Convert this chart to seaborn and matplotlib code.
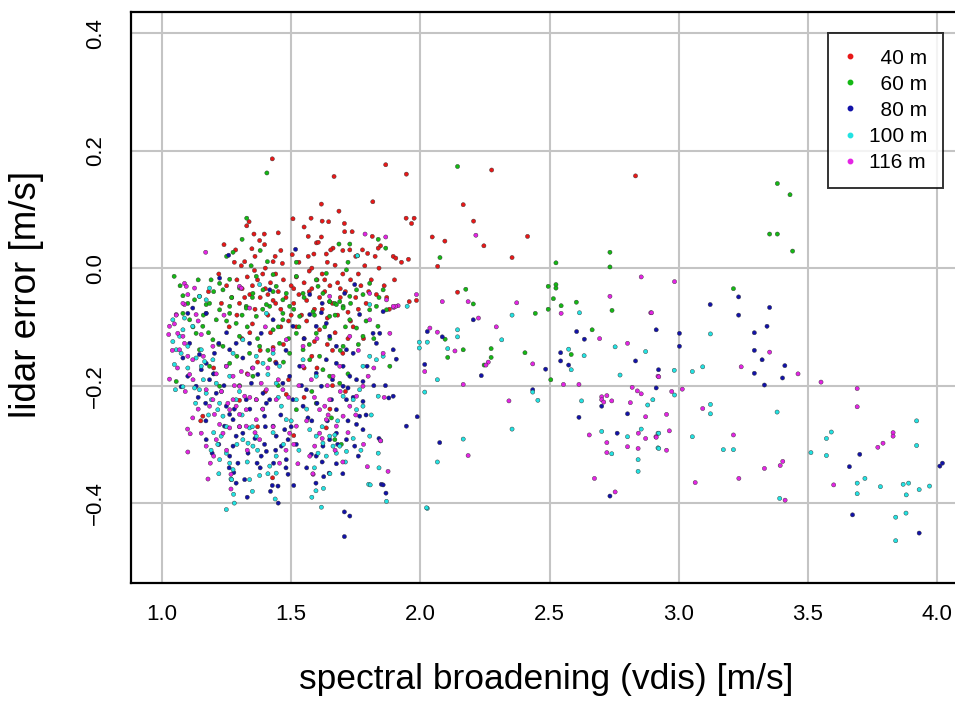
import matplotlib
matplotlib.use("Agg")
import matplotlib.pyplot as plt
from matplotlib.lines import Line2D
import seaborn as sns
import pandas as pd

# ---------------- data ----------------
series_names = ["40 m", "60 m", "80 m", "100 m", "116 m"]
legend_labels = ["  40 m", "  60 m", "  80 m", "100 m", "116 m"]
series_colors = ["#E81818", "#14B814", "#1212A8", "#22E2E2", "#E424E4"]
x_ticks = [1.0, 1.5, 2.0, 2.5, 3.0, 3.5, 4.0]
y_ticks = [-0.4, -0.2, 0.0, 0.2, 0.4]
x_label = "spectral broadening (vdis) [m/s]"
y_label = "lidar error [m/s]"

pts_40 = [
    (1.427, 0.186), (1.866, 0.176), (1.946, 0.160), (1.666, 0.156), (2.276, 0.167), (2.833, 0.157),
    (1.816, 0.113), (1.617, 0.109), (2.166, 0.108), (1.685, 0.097), (1.507, 0.084), (1.577, 0.085),
    (1.645, 0.079), (1.945, 0.085), (1.976, 0.085), (1.966, 0.076), (2.206, 0.080), (1.706, 0.076),
    (1.337, 0.079), (1.328, 0.072), (1.356, 0.058), (1.396, 0.058), (1.378, 0.047), (1.397, 0.040),
    (1.348, 0.033), (1.285, 0.031), (1.504, 0.023), (1.566, 0.054), (1.617, 0.053), (1.598, 0.043),
    (1.605, 0.044), (1.662, 0.034), (1.653, 0.031), (1.727, 0.031), (1.736, 0.062), (1.707, 0.062),
    (1.814, 0.054), (1.846, 0.038), (1.837, 0.034), (1.776, 0.031), (1.796, 0.025), (1.825, 0.020),
    (1.895, 0.020), (1.905, 0.017), (1.927, 0.010), (1.954, 0.015), (1.785, 0.004), (1.566, 0.020),
    (1.588, 0.024), (1.636, 0.024), (1.438, 0.020), (1.430, 0.011), (1.466, 0.008), (1.320, 0.011),
    (1.307, 0.004), (1.358, -0.004), (2.046, 0.053), (2.095, 0.046), (2.246, 0.038), (2.415, 0.054),
    (2.355, 0.018), (2.067, 0.003), (2.144, -0.041), (1.957, -0.057), (1.985, -0.055), (1.428, -0.357),
    (1.22, -0.01), (1.25, -0.03), (1.27, -0.05), (1.29, -0.02), (1.30, -0.06), (1.31, -0.035),
    (1.33, -0.015), (1.34, -0.045), (1.35, -0.03), (1.36, -0.07), (1.37, -0.02), (1.38, -0.05),
    (1.39, -0.01), (1.40, -0.035), (1.41, -0.08), (1.42, -0.025), (1.43, -0.055), (1.44, -0.01),
    (1.45, -0.04), (1.46, -0.07), (1.47, -0.02), (1.48, -0.05), (1.49, -0.09), (1.50, -0.03),
    (1.51, -0.06), (1.52, -0.015), (1.53, -0.045), (1.54, -0.08), (1.55, -0.025), (1.56, -0.055),
    (1.57, -0.005), (1.58, -0.035), (1.59, -0.07), (1.60, -0.02), (1.61, -0.05), (1.62, -0.01),
    (1.63, -0.04), (1.64, -0.085), (1.65, -0.03), (1.66, -0.06), (1.67, 0.005), (1.68, -0.025),
    (1.69, -0.05), (1.70, -0.01), (1.71, -0.04), (1.72, -0.075), (1.73, -0.02), (1.75, -0.05),
    (1.77, -0.03), (1.79, -0.06), (1.81, -0.02), (1.83, -0.045), (1.86, -0.03), (1.88, -0.07),
    (1.26, -0.10), (1.31, -0.12), (1.35, -0.095), (1.38, -0.14), (1.42, -0.11), (1.44, -0.16),
    (1.47, -0.13), (1.52, -0.10), (1.55, -0.12), (1.58, -0.15), (1.61, -0.105), (1.64, -0.13),
    (1.67, -0.11), (1.70, -0.145), (1.74, -0.10), (1.78, -0.12), (1.33, -0.18), (1.49, -0.19),
    (1.60, -0.17), (1.66, -0.20), (1.40, -0.21), (1.158, -0.252), (1.15, -0.26), (1.481, -0.215),
    (1.51, -0.285), (1.636, -0.272), (1.65, -0.24), (1.20, -0.17), (1.23, -0.06), (1.18, -0.04),
    (1.37, -0.27), (1.55, -0.22), (1.71, -0.21), (1.30, -0.225),
    (1.24, 0.04), (1.28, 0.01), (1.32, -0.05), (1.36, 0.02), (1.40, 0.00), (1.44, -0.06),
    (1.46, 0.03), (1.50, -0.08), (1.53, 0.01), (1.56, -0.09), (1.58, 0.00), (1.62, -0.07),
    (1.64, 0.01), (1.68, -0.08), (1.70, 0.03), (1.73, -0.09), (1.76, -0.01), (1.80, -0.04),
    (1.84, 0.00), (1.87, -0.05), (1.90, -0.02), (1.45, 0.06), (1.55, 0.07), (1.62, 0.08),
    (1.75, 0.02), (1.29, -0.08), (1.34, -0.11), (1.46, -0.10), (1.57, -0.04), (1.63, -0.02),
    (1.69, -0.035), (1.76, -0.07), (1.41, -0.045), (1.51, -0.035), (1.43, -0.135), (1.59, -0.125),
    (1.66, -0.14), (1.72, -0.12), (1.37, -0.16), (1.55, -0.17),
]

pts_60 = [
    (1.406, 0.162), (2.144, 0.173), (1.328, 0.085), (1.310, 0.049), (1.275, 0.027), (1.685, 0.041),
    (1.727, 0.041), (1.837, 0.049), (1.866, 0.034), (1.408, 0.011), (1.345, 0.004), (1.047, -0.014),
    (2.076, 0.018), (2.525, 0.009), (2.734, 0.027), (2.734, 0.002), (2.495, -0.031), (2.525, -0.028),
    (2.525, -0.034), (2.176, -0.036), (2.515, -0.052), (2.604, -0.058), (2.205, -0.061), (2.545, -0.064),
    (2.495, -0.070), (2.742, -0.072), (2.445, -0.077), (2.096, -0.121), (2.166, -0.139), (2.274, -0.137),
    (2.274, -0.152), (2.106, -0.152), (2.405, -0.144), (2.247, -0.165), (2.505, -0.190), (2.584, -0.147),
    (2.665, -0.105), (3.382, 0.144), (3.431, 0.125), (3.352, 0.058), (3.382, 0.058), (3.441, 0.029),
    (3.212, -0.035), (1.720, 0.010), (1.757, 0.021),
    (1.081, -0.047), (1.145, -0.048), (1.190, -0.020), (1.223, -0.026), (1.262, -0.019), (1.300, -0.034),
    (1.352, -0.043), (1.391, -0.037), (1.442, -0.031), (1.468, -0.054), (1.481, -0.043), (1.546, -0.043),
    (1.597, -0.020), (1.604, -0.031), (1.623, -0.043), (1.649, -0.057), (1.669, -0.060), (1.688, -0.057),
    (1.701, -0.065), (1.727, -0.048), (1.753, -0.037), (1.778, -0.045), (1.804, -0.026), (1.856, -0.037),
    (1.830, -0.065), (1.869, -0.071), (1.585, -0.074), (1.468, -0.077), (1.262, -0.065), (1.223, -0.071),
    (1.171, -0.062), (1.081, -0.077), (1.126, -0.054), (1.430, -0.011), (1.520, -0.014), (1.636, -0.009),
    (1.714, -0.003), (1.365, -0.014), (1.236, -0.037), (1.326, -0.065), (1.417, -0.065), (1.533, -0.082),
    (1.649, -0.082),
    (1.184, -0.060), (1.210, -0.088), (1.262, -0.077), (1.287, -0.094), (1.326, -0.068), (1.365, -0.082),
    (1.404, -0.062), (1.430, -0.105), (1.468, -0.088), (1.494, -0.065), (1.520, -0.111), (1.649, -0.057),
    (1.675, -0.062), (1.701, -0.068), (1.727, -0.088), (1.753, -0.102), (1.778, -0.116), (1.597, -0.111),
    (1.546, -0.139), (1.572, -0.156), (1.623, -0.173), (1.649, -0.184), (1.688, -0.196), (1.656, -0.255),
    (1.669, -0.292), (1.694, -0.300), (1.055, -0.193), (1.145, -0.139), (1.197, -0.122), (1.236, -0.133),
    (1.300, -0.116), (1.339, -0.145), (1.378, -0.133), (1.417, -0.156), (1.262, -0.162), (1.184, -0.167),
    (1.223, -0.201), (1.365, -0.224), (1.455, -0.128), (1.494, -0.145), (1.352, -0.184), (1.132, -0.111),
    (1.107, -0.088), (1.158, -0.099), (1.804, -0.071), (1.836, -0.099), (1.882, -0.167), (1.520, -0.241),
    (1.597, -0.230), (1.701, -0.133),
    (1.07, -0.03), (1.10, -0.06), (1.12, -0.10), (1.14, -0.02), (1.16, -0.08), (1.18, -0.11),
    (1.20, -0.04), (1.22, -0.13), (1.25, -0.09), (1.27, -0.05), (1.29, -0.15), (1.31, -0.08),
    (1.33, -0.10), (1.35, -0.05), (1.37, -0.12), (1.39, -0.07), (1.41, -0.14), (1.43, -0.04),
    (1.45, -0.10), (1.47, -0.16), (1.49, -0.12), (1.51, -0.07), (1.53, -0.10), (1.55, -0.05),
    (1.57, -0.13), (1.59, -0.08), (1.61, -0.15), (1.63, -0.10), (1.65, -0.12), (1.67, -0.08),
    (1.69, -0.14), (1.71, -0.10), (1.73, -0.06), (1.76, -0.13), (1.79, -0.09), (1.82, -0.12),
    (1.84, -0.05), (1.25, 0.02), (1.38, 0.03), (1.52, 0.01), (1.20, -0.18), (1.30, -0.20),
    (1.45, -0.20), (1.58, -0.21), (1.72, -0.18),
]

pts_80 = [
    (1.258, 0.022), (1.517, 0.032), (2.205, -0.088), (2.027, -0.108), (2.085, -0.117), (2.017, -0.164),
    (2.236, -0.183), (2.485, -0.172), (2.543, -0.144), (2.543, -0.158), (2.574, -0.165), (2.605, -0.108),
    (2.635, -0.121), (2.833, -0.158), (2.922, -0.173), (2.913, -0.105), (2.913, -0.204), (2.435, -0.207),
    (1.988, -0.253), (1.946, -0.269), (2.075, -0.297), (2.702, -0.235), (2.802, -0.248), (2.614, -0.254),
    (2.762, -0.281), (2.734, -0.388), (3.122, -0.062), (3.232, -0.049), (3.232, -0.080), (3.352, -0.067),
    (3.003, -0.111), (3.003, -0.133), (3.293, -0.110), (3.342, -0.099), (3.293, -0.140), (3.323, -0.156),
    (3.293, -0.179), (3.411, -0.166), (3.402, -0.187), (3.332, -0.199), (3.661, -0.338), (3.701, -0.317),
    (4.011, -0.337), (4.021, -0.332), (3.673, -0.420), (3.931, -0.451), (1.907, -0.155), (1.895, -0.218),
    (1.865, -0.200), (1.878, -0.221), (1.849, -0.368), (1.867, -0.383), (1.856, -0.369), (1.706, -0.415),
    (1.727, -0.422), (1.706, -0.457), (1.596, -0.366), (1.626, -0.355), (1.647, -0.349), (1.675, -0.333),
    (1.488, -0.351), (1.427, -0.370), (1.449, -0.371), (1.287, -0.366), (1.278, -0.348), (1.268, -0.360),
    (1.368, -0.332), (1.432, -0.332),
    (1.100, -0.077), (1.081, -0.153), (1.100, -0.184), (1.074, -0.202), (1.145, -0.147), (1.171, -0.162),
    (1.152, -0.173), (1.184, -0.190), (1.203, -0.145), (1.220, -0.128), (1.171, -0.077), (1.169, -0.230),
    (1.210, -0.213), (1.249, -0.235), (1.262, -0.249), (1.242, -0.269), (1.275, -0.258), (1.287, -0.286),
    (1.313, -0.281), (1.326, -0.224), (1.346, -0.196), (1.371, -0.181), (1.391, -0.213), (1.404, -0.230),
    (1.397, -0.252), (1.417, -0.224), (1.430, -0.269), (1.442, -0.286), (1.462, -0.303), (1.475, -0.275),
    (1.397, -0.300), (1.404, -0.312), (1.384, -0.320), (1.333, -0.315), (1.275, -0.303), (1.262, -0.320),
    (1.294, -0.332), (1.313, -0.153), (1.262, -0.139), (1.287, -0.128), (1.339, -0.128), (1.384, -0.111),
    (1.430, -0.088), (1.507, -0.099), (1.572, -0.079), (1.597, -0.099), (1.636, -0.094), (1.649, -0.116),
    (1.675, -0.133), (1.714, -0.139), (1.740, -0.145), (1.765, -0.079), (1.817, -0.111), (1.843, -0.111),
    (1.675, -0.162), (1.701, -0.167), (1.727, -0.184), (1.753, -0.190), (1.778, -0.193), (1.701, -0.201),
    (1.720, -0.204), (1.656, -0.224), (1.714, -0.224), (1.778, -0.227), (1.765, -0.252), (1.753, -0.266),
    (1.778, -0.275), (1.746, -0.303), (1.714, -0.292), (1.675, -0.281), (1.649, -0.292), (1.623, -0.303),
    (1.597, -0.320), (1.578, -0.317), (1.565, -0.255), (1.546, -0.235), (1.507, -0.224), (1.488, -0.292),
    (1.481, -0.326), (1.559, -0.207), (1.494, -0.184), (1.442, -0.162), (1.468, -0.196), (1.533, -0.167),
    (1.597, -0.179), (1.636, -0.156), (1.617, -0.201), (1.675, -0.241), (1.830, -0.128), (1.794, -0.167),
    (1.895, -0.139), (1.194, -0.315), (1.171, -0.292), (1.132, -0.201), (1.107, -0.128),
    (1.417, -0.037), (1.572, -0.045), (1.707, -0.043), (1.746, -0.028), (1.856, -0.074), (1.223, -0.017),
    (1.119, -0.068), (1.171, -0.077), (1.617, -0.076),
    (1.14, -0.22), (1.17, -0.26), (1.20, -0.18), (1.22, -0.30), (1.24, -0.20), (1.26, -0.34),
    (1.28, -0.24), (1.30, -0.27), (1.32, -0.36), (1.34, -0.24), (1.36, -0.29), (1.38, -0.34),
    (1.40, -0.27), (1.42, -0.38), (1.44, -0.31), (1.46, -0.25), (1.48, -0.34), (1.50, -0.27),
    (1.52, -0.30), (1.54, -0.20), (1.56, -0.34), (1.58, -0.26), (1.60, -0.23), (1.62, -0.33),
    (1.64, -0.26), (1.66, -0.19), (1.68, -0.30), (1.70, -0.35), (1.72, -0.26), (1.74, -0.22),
    (1.76, -0.32), (1.79, -0.25), (1.82, -0.20), (1.84, -0.29), (1.35, -0.17), (1.48, -0.14),
    (1.55, -0.12), (1.25, -0.11), (1.62, -0.06), (1.45, -0.40), (1.33, -0.39), (1.51, -0.37),
]

pts_100 = [
    (2.355, -0.080), (2.027, -0.126), (1.996, -0.126), (1.996, -0.136), (2.144, -0.105), (2.144, -0.117),
    (2.315, -0.122), (2.106, -0.137), (2.066, -0.190), (2.616, -0.076), (2.574, -0.138), (2.634, -0.149),
    (2.584, -0.173), (2.754, -0.134), (2.872, -0.142), (2.773, -0.182), (2.435, -0.211), (2.455, -0.225),
    (2.017, -0.211), (2.355, -0.274), (2.166, -0.291), (2.066, -0.330), (2.027, -0.409), (2.624, -0.226),
    (2.880, -0.233), (2.900, -0.224), (2.702, -0.278), (2.802, -0.287), (2.855, -0.274), (2.920, -0.281),
    (2.920, -0.306), (2.741, -0.316), (2.843, -0.326), (2.843, -0.346), (3.123, -0.112), (2.983, -0.174),
    (3.053, -0.176), (3.093, -0.168), (2.984, -0.216), (3.123, -0.232), (3.123, -0.248), (3.381, -0.245),
    (3.053, -0.287), (3.173, -0.309), (3.212, -0.309), (2.923, -0.281), (2.923, -0.307), (3.391, -0.392),
    (3.512, -0.314), (3.572, -0.290), (3.591, -0.279), (3.572, -0.319), (3.691, -0.366), (3.691, -0.384),
    (3.721, -0.358), (3.781, -0.372), (3.869, -0.368), (3.890, -0.366), (3.881, -0.386), (3.931, -0.377),
    (3.971, -0.371), (3.921, -0.260), (3.921, -0.302), (3.840, -0.424), (3.880, -0.417), (3.840, -0.464),
    (1.949, -0.065), (1.837, -0.218), (1.837, -0.315), (1.847, -0.294), (1.800, -0.368), (1.869, -0.397),
    (1.806, -0.369), (1.617, -0.407), (1.596, -0.379), (1.625, -0.375), (1.438, -0.393), (1.378, -0.353),
    (1.249, -0.411), (1.277, -0.385), (1.267, -0.359), (2.024, -0.408),
    (1.042, -0.125), (1.055, -0.139), (1.074, -0.145), (1.048, -0.164), (1.052, -0.207), (1.081, -0.202),
    (1.068, -0.116), (1.100, -0.133), (1.132, -0.153), (1.152, -0.167), (1.165, -0.159), (1.126, -0.204),
    (1.145, -0.207), (1.171, -0.213), (1.191, -0.224), (1.210, -0.196), (1.152, -0.139), (1.197, -0.156),
    (1.223, -0.230), (1.236, -0.252), (1.216, -0.241), (1.229, -0.286), (1.216, -0.300), (1.249, -0.315),
    (1.262, -0.332), (1.275, -0.343), (1.223, -0.326), (1.313, -0.292), (1.333, -0.298), (1.352, -0.303),
    (1.365, -0.286), (1.339, -0.272), (1.287, -0.224), (1.300, -0.210), (1.262, -0.184), (1.249, -0.167),
    (1.275, -0.145), (1.313, -0.122), (1.365, -0.150), (1.391, -0.162), (1.430, -0.145), (1.455, -0.167),
    (1.410, -0.181), (1.442, -0.196), (1.462, -0.235), (1.481, -0.258), (1.520, -0.224), (1.442, -0.320),
    (1.417, -0.337), (1.442, -0.349), (1.339, -0.360), (1.572, -0.275), (1.597, -0.286), (1.623, -0.298),
    (1.649, -0.286), (1.669, -0.284), (1.688, -0.303), (1.714, -0.312), (1.662, -0.303), (1.675, -0.315),
    (1.636, -0.320), (1.604, -0.315), (1.701, -0.218), (1.740, -0.224), (1.765, -0.207), (1.804, -0.150),
    (1.830, -0.156), (1.856, -0.150), (1.778, -0.235), (1.804, -0.286), (1.597, -0.184), (1.546, -0.156),
    (1.778, -0.167), (1.753, -0.241), (1.042, -0.088), (1.081, -0.105), (1.119, -0.099),
    (1.145, -0.048), (1.171, -0.054), (1.184, -0.034), (1.378, -0.028), (1.404, -0.077), (1.756, 0.021),
    (1.804, -0.062), (1.087, -0.085),
    (1.10, -0.17), (1.13, -0.23), (1.16, -0.19), (1.18, -0.25), (1.20, -0.28), (1.23, -0.21),
    (1.25, -0.27), (1.27, -0.36), (1.29, -0.30), (1.31, -0.25), (1.33, -0.33), (1.35, -0.27),
    (1.37, -0.31), (1.39, -0.24), (1.41, -0.35), (1.43, -0.28), (1.45, -0.22), (1.47, -0.30),
    (1.50, -0.26), (1.53, -0.31), (1.56, -0.24), (1.59, -0.34), (1.62, -0.27), (1.65, -0.35),
    (1.68, -0.26), (1.71, -0.33), (1.74, -0.29), (1.77, -0.31), (1.81, -0.25), (1.84, -0.34),
    (1.28, -0.40), (1.35, -0.38), (1.22, -0.35), (1.19, -0.31), (1.58, -0.39),
]

pts_116 = [
    (1.169, 0.027), (1.786, 0.058), (1.866, 0.053), (2.215, 0.056), (2.855, -0.015), (2.734, -0.048),
    (2.085, -0.057), (2.185, -0.057), (2.373, -0.059), (1.985, -0.045), (1.897, -0.067), (1.914, -0.064),
    (2.545, -0.077), (2.892, -0.076), (2.225, -0.085), (2.294, -0.100), (2.037, -0.102), (2.066, -0.109),
    (2.134, -0.141), (2.435, -0.163), (2.263, -0.160), (2.254, -0.165), (2.017, -0.176), (2.166, -0.198),
    (2.694, -0.120), (2.802, -0.128), (2.920, -0.184), (2.554, -0.198), (2.614, -0.198), (2.343, -0.226),
    (2.185, -0.319), (2.702, -0.219), (2.702, -0.224), (2.710, -0.228), (2.722, -0.217), (2.741, -0.226),
    (2.820, -0.203), (2.840, -0.209), (2.855, -0.214), (2.813, -0.229), (2.872, -0.253), (2.654, -0.284),
    (2.722, -0.297), (2.802, -0.304), (2.844, -0.281), (2.872, -0.290), (2.912, -0.287), (2.843, -0.307),
    (2.722, -0.314), (2.674, -0.358), (2.754, -0.381), (2.984, -0.023), (2.895, -0.076), (3.352, -0.143),
    (3.242, -0.168), (3.462, -0.180), (2.923, -0.185), (2.973, -0.210), (3.014, -0.206), (3.551, -0.194),
    (3.691, -0.205), (3.691, -0.236), (3.093, -0.239), (2.953, -0.249), (3.212, -0.284), (2.964, -0.277),
    (2.913, -0.288), (2.953, -0.310), (3.064, -0.365), (3.233, -0.358), (3.332, -0.341), (3.393, -0.336),
    (3.403, -0.329), (3.412, -0.395), (3.600, -0.369), (3.771, -0.305), (3.791, -0.298), (3.830, -0.280),
    (3.830, -0.286), (1.875, -0.346), (1.795, -0.338), (1.585, -0.351), (1.526, -0.333), (1.584, -0.350),
    (1.178, -0.359), (1.267, -0.351), (1.267, -0.376), (1.187, -0.332), (1.100, -0.313), (1.099, -0.274),
    (1.109, -0.282), (1.119, -0.255), (1.905, -0.065), (1.846, -0.294),
    (1.029, -0.099), (1.048, -0.095), (1.026, -0.113), (1.061, -0.111), (1.081, -0.116), (1.087, -0.128),
    (1.068, -0.139), (1.100, -0.150), (1.119, -0.156), (1.029, -0.189), (1.107, -0.181), (1.087, -0.062),
    (1.055, -0.079), (1.132, -0.079), (1.152, -0.113), (1.197, -0.133), (1.249, -0.167), (1.275, -0.184),
    (1.307, -0.176), (1.333, -0.181), (1.352, -0.170), (1.384, -0.196), (1.300, -0.201), (1.320, -0.218),
    (1.275, -0.224), (1.255, -0.230), (1.287, -0.235), (1.326, -0.241), (1.300, -0.249), (1.262, -0.241),
    (1.223, -0.266), (1.184, -0.235), (1.203, -0.249), (1.236, -0.281), (1.262, -0.272), (1.326, -0.269),
    (1.365, -0.258), (1.171, -0.303), (1.152, -0.281), (1.210, -0.292), (1.378, -0.292), (1.442, -0.224),
    (1.468, -0.207), (1.430, -0.139), (1.481, -0.122), (1.546, -0.133), (1.546, -0.167), (1.578, -0.190),
    (1.610, -0.241), (1.630, -0.235), (1.643, -0.250), (1.636, -0.258), (1.649, -0.224), (1.610, -0.281),
    (1.591, -0.303), (1.572, -0.320), (1.675, -0.269), (1.701, -0.252), (1.727, -0.235), (1.753, -0.218),
    (1.778, -0.201), (1.798, -0.184), (1.856, -0.145), (1.882, -0.111), (1.804, -0.088), (1.727, -0.116),
    (1.688, -0.167), (1.662, -0.184), (1.520, -0.269), (1.494, -0.281), (1.455, -0.332), (1.365, -0.224),
    (1.404, -0.207), (1.171, -0.207), (1.197, -0.224),
    (1.087, -0.026), (1.094, -0.031), (1.081, -0.060), (1.100, -0.045), (1.126, -0.034), (1.300, -0.031),
    (1.307, -0.034), (1.339, -0.068), (1.804, -0.043), (1.869, -0.054), (1.895, -0.065), (1.055, -0.080),
    (1.649, -0.048),
    (1.04, -0.14), (1.06, -0.17), (1.09, -0.21), (1.12, -0.19), (1.14, -0.24), (1.16, -0.15),
    (1.21, -0.18), (1.23, -0.21), (1.28, -0.20), (1.30, -0.27), (1.34, -0.22), (1.36, -0.28),
    (1.39, -0.24), (1.41, -0.17), (1.43, -0.27), (1.45, -0.19), (1.49, -0.22), (1.51, -0.30),
    (1.53, -0.20), (1.56, -0.26), (1.59, -0.22), (1.62, -0.29), (1.64, -0.20), (1.67, -0.31),
    (1.69, -0.21), (1.72, -0.28), (1.75, -0.25), (1.78, -0.30), (1.82, -0.17), (1.86, -0.22),
    (1.20, -0.32), (1.25, -0.31), (1.33, -0.31), (1.48, -0.31), (1.70, -0.33), (1.14, -0.09),
    (1.24, -0.08), (1.40, -0.10), (1.60, -0.12), (1.76, -0.14),
]

all_series = [pts_40, pts_60, pts_80, pts_100, pts_116]

rows = []
for name, pts in zip(series_names, all_series):
    for vx, vy in pts:
        rows.append({"vdis": vx, "err": vy, "height": name})
df = pd.DataFrame(rows)

# ---------------- drawing ----------------
sns.set_style("white")
plt.rcParams["font.family"] = ["Liberation Sans", "DejaVu Sans"]
plt.rcParams["text.color"] = "black"

W, H = 955, 703
fig = plt.figure(figsize=(W / 100, H / 100), dpi=100)
ax = fig.add_axes([131 / W, 1 - 583 / H, (968 - 131) / W, (583 - 12) / H])

ax.set_xlim(0.88, 4.12)
ax.set_ylim(-0.536, 0.436)
ax.set_xticks(x_ticks)
ax.set_yticks(y_ticks)
ax.set_xticklabels([f"{v:.1f}" for v in x_ticks])
ax.set_yticklabels([f"{v:.1f}".replace("-", "\u2212") for v in y_ticks])
ax.grid(True, color="#c4c4c4", linewidth=1.5, zorder=0)
ax.set_axisbelow(True)

sns.scatterplot(data=df, x="vdis", y="err", hue="height", hue_order=series_names,
                palette=series_colors, s=9, linewidth=0.3, edgecolor="#303030",
                legend=False, ax=ax, zorder=3)

for side in ["left", "bottom", "top"]:
    ax.spines[side].set_visible(True)
    ax.spines[side].set_color("black")
    ax.spines[side].set_linewidth(1.6)
ax.spines["right"].set_visible(False)

ax.tick_params(axis="both", which="major", direction="out", length=10, width=1.4,
               color="black", labelsize=16, labelcolor="black")
ax.tick_params(axis="x", pad=5)
ax.tick_params(axis="y", pad=8)
plt.setp(ax.get_yticklabels(), rotation=90, va="center")

ax.set_xlabel(x_label, fontsize=25.5, color="black")
ax.set_ylabel(y_label, fontsize=26.5, color="black")
ax.xaxis.set_label_coords(0.4965, -0.140)
ax.yaxis.set_label_coords(-0.104, 0.505)

handles = [Line2D([0], [0], marker="o", linestyle="", markersize=3.2,
                  markerfacecolor=c, markeredgecolor=c) for c in series_colors]
leg = ax.legend(handles, legend_labels, loc="upper right",
                bbox_to_anchor=(943 / W, 1 - 33 / H), bbox_transform=fig.transFigure,
                borderaxespad=0, fontsize=15, frameon=True, fancybox=False,
                handlelength=0.6, handletextpad=0.62, borderpad=0.75, labelspacing=0.34)
leg.get_frame().set_edgecolor("black")
leg.get_frame().set_linewidth(1.4)
for t in leg.get_texts():
    t.set_color("black")
leg.set_zorder(10)

fig.savefig("out.png", dpi=100)
